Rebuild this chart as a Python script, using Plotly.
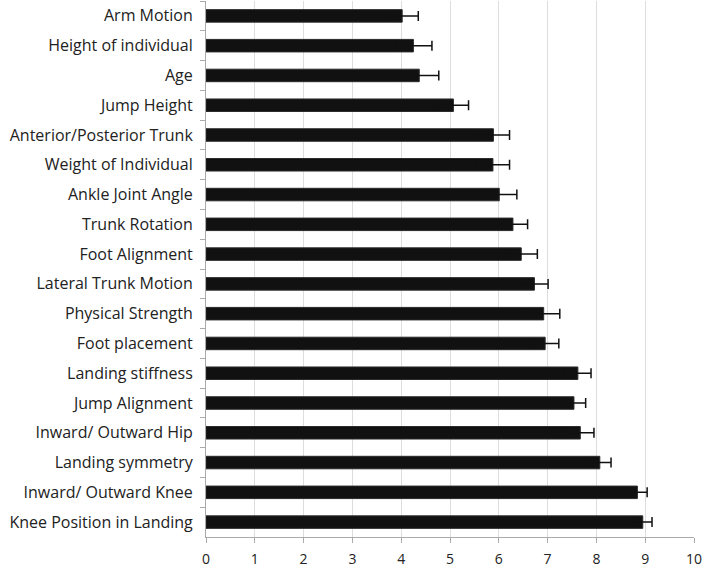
import plotly.graph_objects as go

factors = [
    "Arm Motion", "Height of individual", "Age", "Jump Height",
    "Anterior/Posterior Trunk", "Weight of Individual", "Ankle Joint Angle",
    "Trunk Rotation", "Foot Alignment", "Lateral Trunk Motion",
    "Physical Strength", "Foot placement", "Landing stiffness",
    "Jump Alignment", "Inward/ Outward Hip", "Landing symmetry",
    "Inward/ Outward Knee", "Knee Position in Landing",
]
means = [4.02, 4.25, 4.37, 5.07, 5.89, 5.88, 6.01, 6.29, 6.46, 6.73,
         6.92, 6.95, 7.62, 7.54, 7.67, 8.07, 8.84, 8.95]
errors = [0.33, 0.38, 0.40, 0.31, 0.33, 0.34, 0.36, 0.30, 0.33, 0.28,
          0.33, 0.28, 0.27, 0.24, 0.28, 0.23, 0.20, 0.19]
x_ticks = list(range(0, 11))

fig = go.Figure(go.Bar(
    x=means, y=factors, orientation="h",
    marker=dict(color="#111111", line=dict(color="#2a2a2a", width=1)),
    width=0.42,
    error_x=dict(type="data", array=errors, visible=True,
                 color="#111111", thickness=1.5, width=5),
))

fig.update_layout(
    width=703, height=567,
    margin=dict(l=206, r=9, t=1, b=30, autoexpand=False),
    paper_bgcolor="white", plot_bgcolor="white",
    font=dict(family="Open Sans, DejaVu Sans, sans-serif", size=16, color="#222222"),
    showlegend=False,
)
fig.update_xaxes(
    range=[0, 10], tickvals=x_ticks, ticktext=[str(v) for v in x_ticks],
    showgrid=True, gridcolor="#dddddd", gridwidth=1,
    showline=True, linecolor="#aaaaaa", linewidth=1,
    ticks="outside", ticklen=5, tickcolor="#aaaaaa",
    tickfont=dict(size=14, color="#222222"),
    ticklabelstandoff=4,
    zeroline=False, automargin=False,
)
fig.update_yaxes(
    autorange="reversed", type="category",
    showline=True, linecolor="#aaaaaa", linewidth=1,
    ticks="outside", ticklen=5, tickcolor="#aaaaaa", tickson="boundaries",
    showgrid=False, automargin=False,
    tickfont=dict(size=16, color="#222222"),
    ticklabelstandoff=9,
)

fig.write_html(
    "out.html",
    config={"displayModeBar": False},
    post_script="document.body.style.margin='0px';document.body.style.padding='0px';",
)
